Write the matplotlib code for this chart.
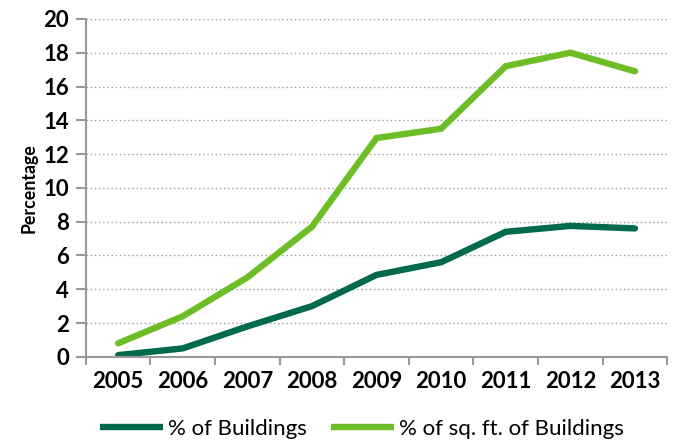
import matplotlib
matplotlib.use("Agg")
import matplotlib.pyplot as plt
import numpy as np

years = ["2005", "2006", "2007", "2008", "2009", "2010", "2011", "2012", "2013"]
pct_buildings = [0.1, 0.5, 1.8, 3.0, 4.85, 5.6, 7.4, 7.75, 7.6]
pct_sqft = [0.8, 2.4, 4.7, 7.7, 12.95, 13.5, 17.2, 18.0, 16.9]
y_ticks = [0, 2, 4, 6, 8, 10, 12, 14, 16, 18, 20]

plt.rcParams['font.family'] = ['Lato', 'DejaVu Sans']

fig = plt.figure(figsize=(6.76, 4.40), dpi=100)
ax = fig.add_axes([0.127, 0.189, 0.86, 0.768])

x = np.arange(len(years))
ax.plot(x, pct_buildings, color='#016A4C', linewidth=4.6, solid_capstyle='round',
        solid_joinstyle='miter', label='% of Buildings')
ax.plot(x, pct_sqft, color='#6CBD26', linewidth=4.6, solid_capstyle='round',
        solid_joinstyle='miter', label='% of sq. ft. of Buildings')

ax.set_xlim(-0.5, len(years) - 0.5)
ax.set_ylim(0, 20)
ax.set_yticks(y_ticks)
ax.set_xticks(x)
ax.set_xticklabels(years)
ax.set_xticks(np.arange(-0.5, len(years)), minor=True)
ax.tick_params(axis='x', which='major', length=0, pad=10, labelsize=16)
ax.tick_params(axis='x', which='minor', length=6, width=1.5, color='#999999', direction='out')
ax.tick_params(axis='y', length=7, width=1.5, color='#999999', labelsize=16, pad=5)
for lbl in ax.get_xticklabels() + ax.get_yticklabels():
    lbl.set_fontweight('bold')

ax.grid(axis='y', linestyle=(0, (1, 2)), color='#999999', linewidth=1)
ax.set_axisbelow(True)
for s in ['top', 'right']:
    ax.spines[s].set_visible(False)
for s in ['left', 'bottom']:
    ax.spines[s].set_color('#999999')
    ax.spines[s].set_linewidth(1.5)

ax.set_ylabel('Percentage', fontsize=12.8, fontweight='bold', labelpad=4)

# legend sits at the very bottom edge, as in the source chart
leg = fig.legend(loc='center', bbox_to_anchor=(0.535, 0.025), ncol=2, frameon=False,
                 fontsize=16, handlelength=2.85, handletextpad=0.2, columnspacing=1.1,
                 borderpad=0.1)
for h in leg.legend_handles:
    h.set_solid_capstyle('butt')

fig.savefig('out.png', dpi=100)
